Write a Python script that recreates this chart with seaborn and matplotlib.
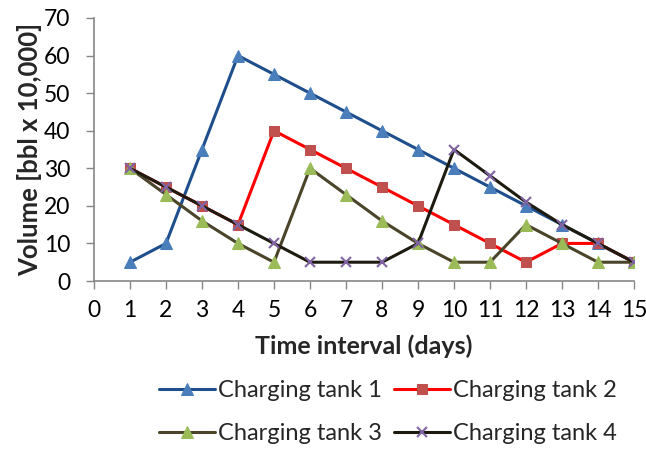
import matplotlib
matplotlib.use("Agg")
import matplotlib.pyplot as plt
import seaborn as sns
import pandas as pd

days = list(range(1, 16))
tank1 = [5, 10, 35, 60, 55, 50, 45, 40, 35, 30, 25, 20, 15, 10, 5]
tank2 = [30, 25, 20, 15, 40, 35, 30, 25, 20, 15, 10, 5, 10, 10, 5]
tank3 = [30, 23, 16, 10, 5, 30, 23, 16, 10, 5, 5, 15, 10, 5, 5]
tank4 = [30, 25, 20, 15, 10, 5, 5, 5, 10, 35, 28, 21, 15, 10, 5]
names = ["Charging tank 1", "Charging tank 2", "Charging tank 3", "Charging tank 4"]
x_ticks = list(range(0, 16))
y_ticks = list(range(0, 71, 10))

sns.set_theme(style="white")
plt.rcParams["font.family"] = ["Lato", "DejaVu Sans"]

fig = plt.figure(figsize=(6.46, 4.5), dpi=100)
ax = fig.add_axes([94 / 646, (450 - 281) / 450, 540 / 646, 263 / 450])

styles = [
    dict(color="#1F4E8C", marker="^", markerfacecolor="#4A7EBB", markeredgecolor="#4A7EBB", markersize=8),
    dict(color="#FF0000", marker="s", markerfacecolor="#C0504D", markeredgecolor="#C0504D", markersize=7.5),
    dict(color="#4A452A", marker="^", markerfacecolor="#9BBB59", markeredgecolor="#9BBB59", markersize=8),
    dict(color="#1D1B10", marker="x", markerfacecolor="#8064A2", markeredgecolor="#8064A2", markersize=7, markeredgewidth=1.5),
]

for name, vals, st in zip(names, [tank1, tank2, tank3, tank4], styles):
    df = pd.DataFrame({"day": days, "vol": vals})
    sns.lineplot(data=df, x="day", y="vol", ax=ax, label=name, linewidth=2.2, **st)

ax.set_xlim(0, 15)
ax.set_ylim(0, 70)
ax.set_xticks(x_ticks)
ax.set_yticks(y_ticks)
ax.tick_params(axis="both", labelsize=16.5, colors="#868686", labelcolor="black",
               direction="out", length=6, width=1, bottom=True, left=True)
ax.tick_params(axis="x", pad=8)
ax.tick_params(axis="y", pad=11)
for s in ["top", "right"]:
    ax.spines[s].set_visible(False)
for s in ["left", "bottom"]:
    ax.spines[s].set_color("#868686")
    ax.spines[s].set_linewidth(1.2)

ax.set_xlabel("Time interval (days)", fontsize=18, fontweight="bold", labelpad=9)
ax.set_ylabel("Volume [bbl x 10,000]", fontsize=18.5, fontweight="bold", labelpad=1)

handles, labels = ax.get_legend_handles_labels()
ax.get_legend().remove()
order = [0, 2, 1, 3]
fig.legend([handles[i] for i in order], [labels[i] for i in order], ncol=2, loc="center",
           bbox_to_anchor=(388 / 646, (450 - 412) / 450),
           frameon=False, fontsize=17, handlelength=2.35, handletextpad=0.15,
           columnspacing=0.5, labelspacing=0.95)

fig.savefig("out.png", dpi=100)
